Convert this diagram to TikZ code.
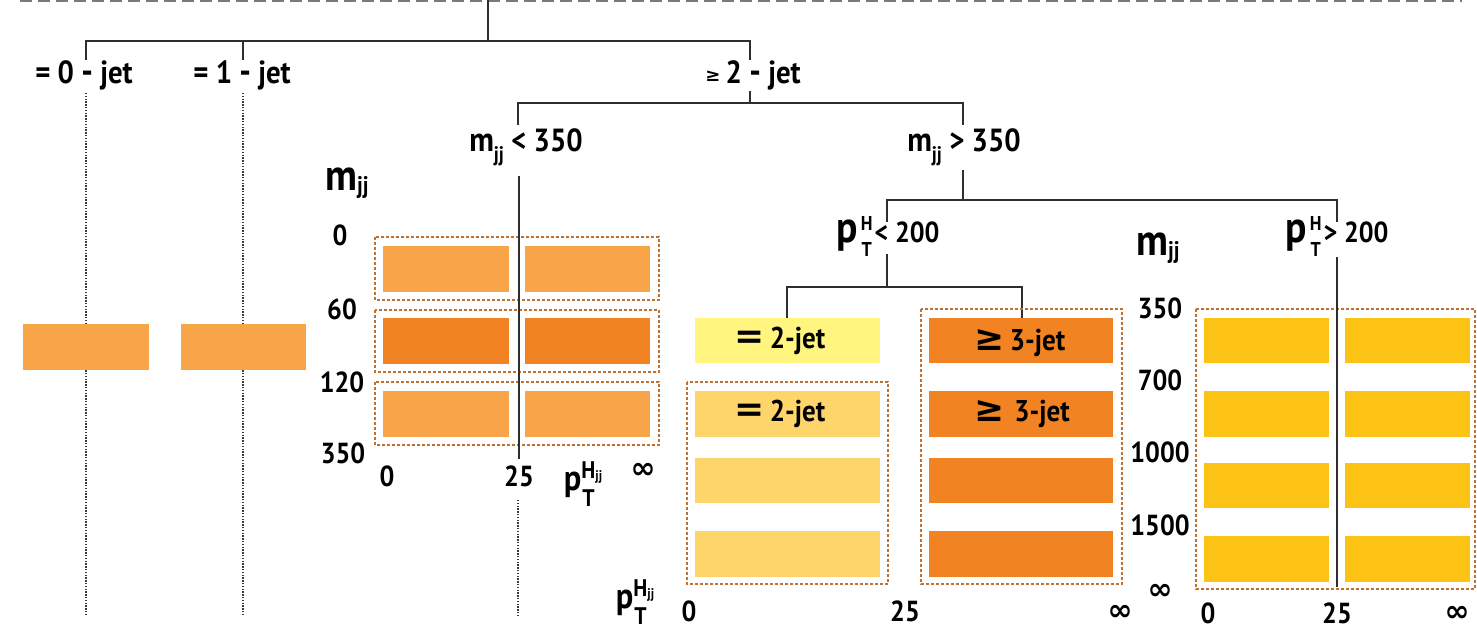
\documentclass[tikz,border=0pt]{standalone}
\usepackage{fontspec}
\setmainfont[FakeStretch=0.9]{PT Sans}
\newfontfamily\symfont{DejaVu Sans}
\definecolor{lineC}{HTML}{2E2E2E}
\definecolor{dotC}{HTML}{3A3A3A}
\definecolor{dashC}{HTML}{7A7A7A}
\definecolor{grpC}{HTML}{C0712E}
\definecolor{lorange}{HTML}{F8A54A}
\definecolor{dorange}{HTML}{F28322}
\definecolor{pyellow}{HTML}{FFF57F}
\definecolor{lyellow}{HTML}{FDD56A}
\definecolor{gold}{HTML}{FDC314}
\newcommand\fsz[1]{\fontsize{#1}{#1}\selectfont}
\newcommand\mjj[2]{{\fsz{#1}m}\raisebox{-0.3em}{\fsz{#2}jj}}
\newcommand\pTH[1]{{\fsz{44}p}\hspace{3pt}\raisebox{-14pt}{\fontsize{20}{26}\selectfont\begin{tabular}[b]{@{}c@{}}H\\T\end{tabular}}\hspace{2pt}{\fsz{29}#1}}
\newcommand\pTHjj{{\fsz{36}p}\raisebox{-16pt}{\fontsize{24}{28}\selectfont\begin{tabular}[b]{@{}l@{}}H\raisebox{-2pt}{\fsz{14}jj}\\\hspace{1pt}T\end{tabular}}}
\newcommand\infy{{\symfont\bfseries\fsz{30}∞}}
\tikzset{
  conn/.style={draw=lineC, line width=2.2pt},
  dotl/.style={draw=dotC, line width=2.3pt, dash pattern=on 1.4pt off 1.4pt},
  grp/.style={draw=grpC, line width=1.8pt, dash pattern=on 3pt off 2pt},
  cellbox/.style={draw=none, inner sep=0pt, outer sep=0pt, anchor=north west},
  lbl/.style={inner sep=0pt, font=\bfseries\fsz{32}},
  num/.style={inner sep=0pt, font=\bfseries\fsz{29}},
  jetlbl/.style={inner sep=0pt, font=\bfseries\fsz{30}},
}
\newcommand\cell[6]{\node[cellbox, fill=#2, minimum width=#5pt, minimum height=#6pt] (#1) at (#3,#4) {};}
\begin{document}
\begin{tikzpicture}[x=1pt,y=-1pt]
\useasboundingbox (0,0) rectangle (1477,630);
% top dashed line
\coordinate (dl) at (20,0.5);
\coordinate (dr) at (1462,0.5);
\draw[draw=dashC, line width=3.5pt, dash pattern=on 12pt off 6pt] (dl) -- (dr);

% ---- tree level 1
\coordinate (root) at (488,0);
\coordinate (bar0) at (488,41);
\coordinate (t0) at (86,60);
\coordinate (t1) at (243,60);
\coordinate (t2) at (750,60);
\draw[conn] (root) -- (bar0);
\draw[conn] (t0) -- (t0 |- bar0) -- (t2 |- bar0) -- (t2);
\draw[conn] (t1) -- (t1 |- bar0);
\node[lbl] (j0) at (84,75) {= 0 {\fsz{36}-} jet};
\node[lbl] (j1) at (242,75) {= 1 {\fsz{36}-} jet};
\node[lbl] (j2) at (753,75) {\raisebox{2pt}{\symfont\bfseries\fsz{18}≥}\,2 {\fsz{36}-} jet};

% dotted lines for 0-jet and 1-jet
\coordinate (d0a) at (86,93); \coordinate (d0b) at (86,615);
\coordinate (d1a) at (243,93); \coordinate (d1b) at (243,615);
\draw[dotl] (d0a) -- (d0b);
\draw[dotl] (d1a) -- (d1b);
\cell{c0}{lorange}{23}{324}{126}{46}
\cell{c1}{lorange}{181}{324}{125}{46}

% ---- level 2
\coordinate (s2a) at (750,91);
\coordinate (bar1) at (750,103);
\coordinate (ml) at (518,125);
\coordinate (mr) at (963,125);
\draw[conn] (s2a) -- (bar1);
\draw[conn] (ml) -- (ml |- bar1) -- (mr |- bar1) -- (mr);
\node[lbl] (mlo) at (526,147) {\mjj{34}{21} < 350};
\node[lbl] (mhi) at (964,147) {\mjj{34}{21} > 350};

% ---- m_jj < 350 grid
\draw[grp] (375,237) rectangle (659,300);
\draw[grp] (375,310) rectangle (659,372);
\draw[grp] (375,382) rectangle (659,445);
\cell{g11}{lorange}{383}{246}{126}{46}
\cell{g12}{lorange}{525}{246}{125}{46}
\cell{g21}{dorange}{383}{318}{126}{46}
\cell{g22}{dorange}{525}{318}{125}{46}
\cell{g31}{lorange}{383}{391}{126}{46}
\cell{g32}{lorange}{525}{391}{125}{46}
\coordinate (gl1) at (519,176);
\coordinate (gl2) at (519,459);
\coordinate (gl3) at (518,500);
\coordinate (gl4) at (518,615);
\draw[conn] (gl1) -- (gl2);
\draw[dotl] (gl3) -- (gl4);
\node[inner sep=0pt, font=\bfseries] (lm) at (347,183) {\mjj{44}{24}};
\node[num] (ly0) at (340,235) {0};
\node[num] (ly1) at (342,309) {60};
\node[num] (ly2) at (342,382) {120};
\node[num] (ly3) at (343,453) {350};
\node[num] (lx0) at (387,476) {0};
\node[num] (lx1) at (519,476) {25};
\node[inner sep=0pt, font=\bfseries] (lxp) at (583,487) {\pTHjj};
\node[inner sep=0pt] (lxi) at (643,471) {\infy};

% ---- m_jj > 350 split
\coordinate (ma) at (963,170);
\coordinate (bar2) at (963,200);
\coordinate (pl) at (887,222);
\coordinate (pr) at (1337,222);
\draw[conn] (ma) -- (bar2);
\draw[conn] (pl) -- (pl |- bar2) -- (pr |- bar2) -- (pr);
\node[inner sep=0pt, font=\bfseries] (plo) at (888,238) {\pTH{< 200}};
\node[inner sep=0pt, font=\bfseries] (phi) at (1337,238) {\pTH{> 200}};

% ---- pT^H < 200 split
\coordinate (pa) at (887,254);
\coordinate (bar3) at (887,287);
\coordinate (ja) at (787,318);
\coordinate (jb) at (1022,318);
\draw[conn] (pa) -- (bar3);
\draw[conn] (ja) -- (ja |- bar3) -- (jb |- bar3) -- (jb);
\draw[grp] (687,382) rectangle (888,584);
\draw[grp] (921,309) rectangle (1122,584);
\cell{e1}{pyellow}{695}{318}{185}{45}
\cell{e2}{lyellow}{695}{391}{185}{46}
\cell{e3}{lyellow}{695}{458}{185}{45}
\cell{e4}{lyellow}{695}{531}{185}{46}
\cell{f1}{dorange}{929}{318}{184}{45}
\cell{f2}{dorange}{929}{391}{184}{46}
\cell{f3}{dorange}{929}{458}{184}{45}
\cell{f4}{dorange}{929}{531}{184}{46}
\node[jetlbl] (e1t) at (780,341) {{\symfont\bfseries\fsz{36}=}\,2-jet};
\node[jetlbl] (e2t) at (780,414) {{\symfont\bfseries\fsz{36}=}\,2-jet};
\node[jetlbl] (f1t) at (1020,343) {{\symfont\bfseries\fsz{36}≥}\,3-jet};
\node[jetlbl] (f2t) at (1022,414) {{\symfont\bfseries\fsz{36}≥}\,\,3-jet};
\node[inner sep=0pt, font=\bfseries] (mxp) at (635,605) {\pTHjj};
\node[num] (mx0) at (689,611) {0};
\node[num] (mx1) at (905,611) {25};
\node[inner sep=0pt] (mxi) at (1120,613) {\infy};

% ---- pT^H > 200 grid
\draw[grp] (1196,309) rectangle (1475,589);
\cell{h11}{gold}{1204}{318}{125}{45}
\cell{h12}{gold}{1345}{318}{125}{45}
\cell{h21}{gold}{1204}{391}{125}{46}
\cell{h22}{gold}{1345}{391}{125}{46}
\cell{h31}{gold}{1204}{463}{125}{45}
\cell{h32}{gold}{1345}{463}{125}{45}
\cell{h41}{gold}{1204}{536}{125}{46}
\cell{h42}{gold}{1345}{536}{125}{46}
\coordinate (ha) at (1337,257);
\coordinate (hb) at (1337,587);
\draw[conn] (ha) -- (hb);
\node[inner sep=0pt, font=\bfseries] (rm) at (1158,248) {\mjj{44}{24}};
\node[num] (ry0) at (1160,308) {350};
\node[num] (ry1) at (1160,380) {700};
\node[num] (ry2) at (1160,452) {1000};
\node[num] (ry3) at (1160,525) {1500};
\node[inner sep=0pt] (ry4) at (1160,592) {\infy};
\node[num] (rx0) at (1208,613) {0};
\node[num] (rx1) at (1337,613) {25};
\node[inner sep=0pt] (rxi) at (1457,614) {\infy};
\end{tikzpicture}
\end{document}
